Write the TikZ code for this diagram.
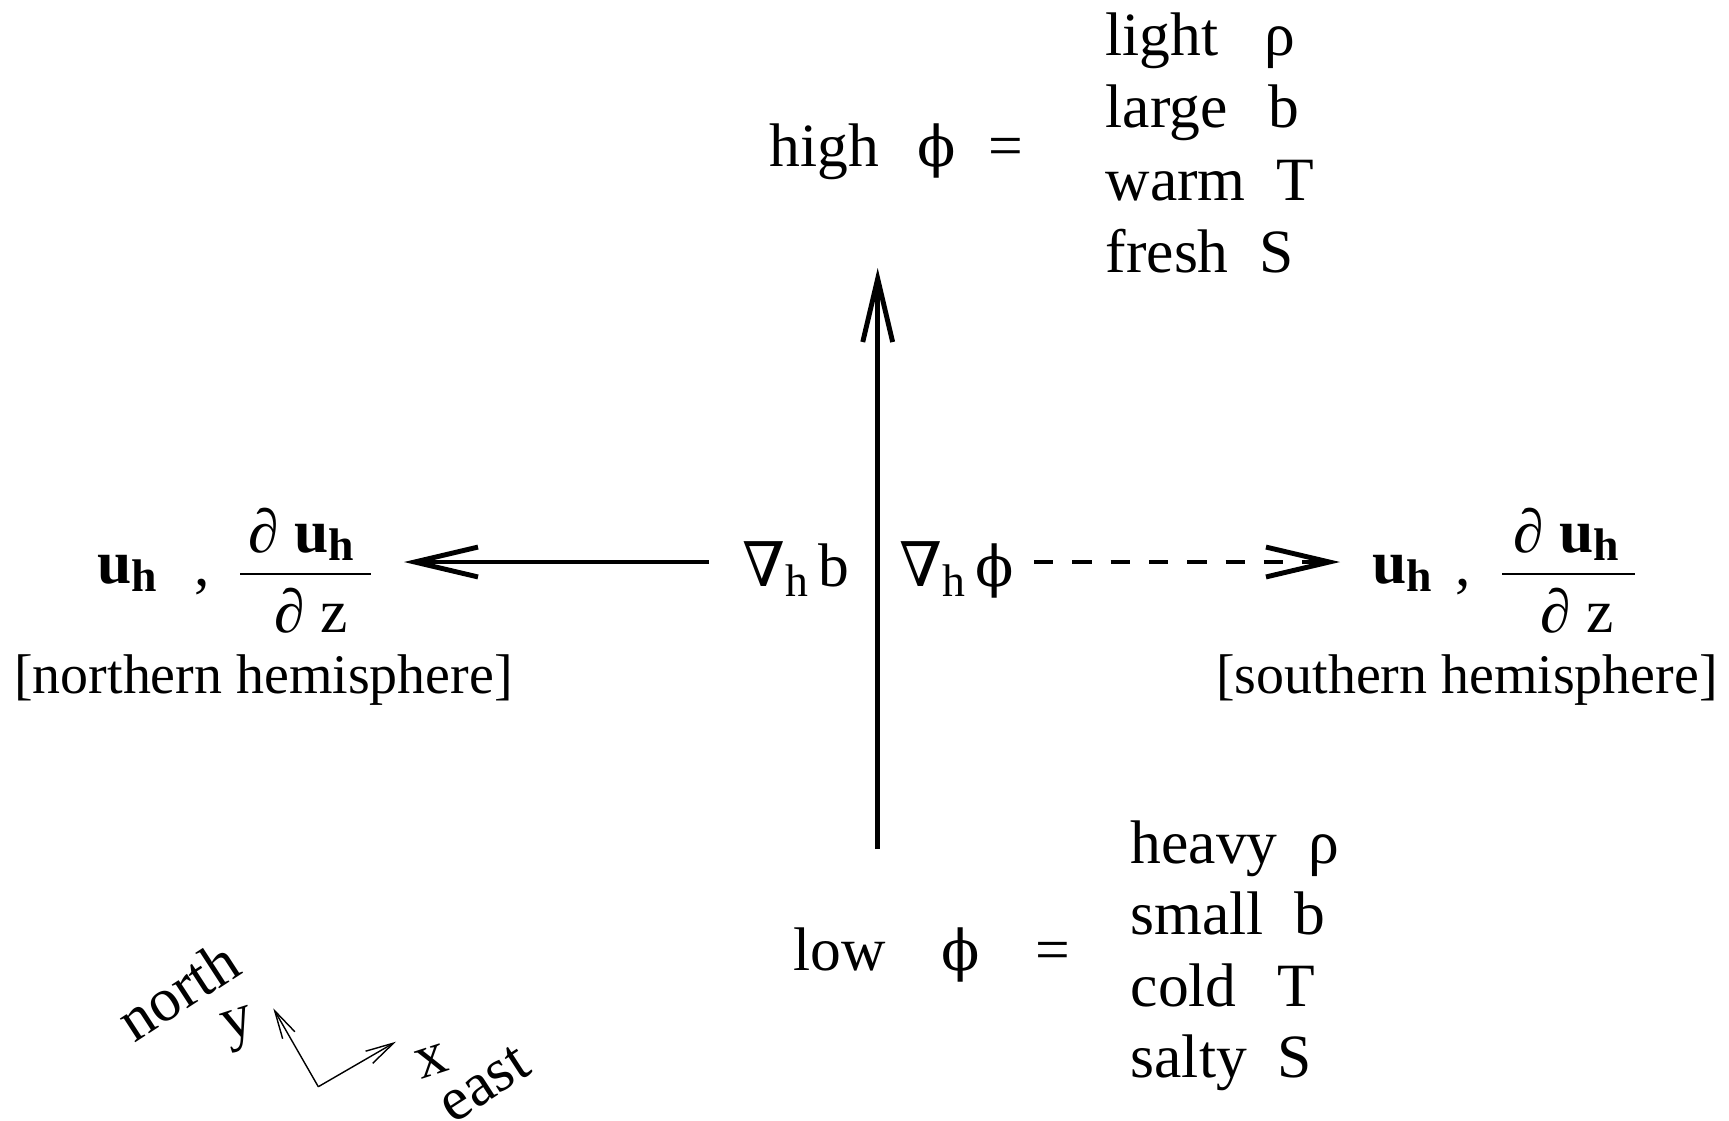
\documentclass[tikz,border=0pt]{standalone}
\usepackage{fontspec}
\setmainfont{Liberation Serif}
\newfontfamily\symfont{DejaVu Serif}
\usetikzlibrary{arrows.meta,positioning}
\newcommand{\bigtxt}{\fontsize{17.5}{20.5}\selectfont}
\newcommand{\smalltxt}{\fontsize{15.9}{18}\selectfont}
\newcommand{\subh}[2][3pt]{\raisebox{-#1}{\fontsize{13}{13}\selectfont #2}}
\newcommand{\grad}{{\symfont ∇}}
\newcommand{\phisym}{{\symfont\fontsize{16}{16}\selectfont ϕ}}
\newcommand{\uh}{\textbf{u\subh[2.5pt]{h}}}
\tikzset{
  lbl/.style={inner sep=0pt, font=\bigtxt, anchor=base west},
  midlbl/.style={inner sep=0pt, font=\bigtxt, anchor=base},
  note/.style={inner sep=0pt, font=\smalltxt, anchor=base},
  axlbl/.style={inner sep=0pt, font=\bigtxt, rotate=33},
  flow/.style={-{Straight Barb[length=18pt,width=8.5pt]}, line width=1.4pt},
  axis/.style={-{Straight Barb[length=8pt,width=4pt]}, line width=0.4pt}
}
\begin{document}
\begin{tikzpicture}[x=0.01cm, y=-0.01cm]
  \useasboundingbox (0,0) rectangle (1729,1120);

  % high potential
  \node[lbl] (high) at (769,166) {high};
  \node[lbl] (highphi) at (917,166) {\phisym};
  \node[lbl] (higheq) at (988,166) {=};
  \node[lbl] (light) at (1105,55) {light~~~ρ};
  \node[lbl] (large) at (1105,127.5) {large~~\,b};
  \node[lbl] (warm) at (1105,200) {warm~~T};
  \node[lbl] (fresh) at (1105,272.5) {fresh~~S};

  % low potential
  \node[lbl] (low) at (793,970) {low};
  \node[lbl] (lowphi) at (941,970) {\phisym};
  \node[lbl] (loweq) at (1035,970) {=};
  \node[lbl] (heavy) at (1130,863) {heavy~~ρ};
  \node[lbl] (small) at (1130,934.5) {small~~b};
  \node[lbl] (cold) at (1130,1006) {cold~~\,T};
  \node[lbl] (salty) at (1130,1077.5) {salty~~S};

  % gradients
  \node[lbl] (gradb) at (742,586) {\grad\subh{h}\,b};
  \node[lbl] (gradphi) at (899,586) {\grad\subh{h}\,\phisym};

  % northern side
  \node[lbl] (uhN) at (97,583) {\uh};
  \node[lbl] (commaN) at (194,585) {,};
  \node[midlbl] (numN) at (301,552) {∂ \uh};
  \node[midlbl] (denN) at (311,632) {∂ z};
  \coordinate (barNl) at (240,574);
  \coordinate (barNr) at (371,574);
  \node[note] (north) at (263.5,693) {[northern hemisphere]};

  % southern side
  \node[lbl] (uhS) at (1372,583) {\uh};
  \node[lbl] (commaS) at (1455,585) {,};
  \node[midlbl] (numS) at (1566,552) {∂ \uh};
  \node[midlbl] (denS) at (1577,632) {∂ z};
  \coordinate (barSl) at (1502,574);
  \coordinate (barSr) at (1635,574);
  \node[note] (south) at (1467,693) {[southern hemisphere]};

  \draw[line width=0.7pt] (barNl) -- (barNr);
  \draw[line width=0.7pt] (barSl) -- (barSr);

  % arrows
  \coordinate (risebot) at (877.7,849);
  \coordinate (risetop) at (877.7,268);
  \coordinate (leftbeg) at (709,562);
  \coordinate (lefttip) at (404,562);
  \coordinate (rightbeg) at (1034,562);
  \coordinate (righttip) at (1340,562);
  \draw[flow] (risebot) -- (risetop);
  \draw[flow] (leftbeg) -- (lefttip);
  \draw[flow, dash pattern=on 5.5pt off 5.4pt] (rightbeg) -- (righttip);

  % compass
  \coordinate (orig) at (318.3,1086.7);
  \coordinate (ytip) at (273.3,1008.3);
  \coordinate (xtip) at (396,1041.7);
  \draw[axis] (orig) -- (ytip);
  \draw[axis] (orig) -- (xtip);
  \node[axlbl, rotate=-15] (ylbl) at (240,1030) {y};
  \node[axlbl] (nlbl) at (178,990) {north};
  \node[axlbl, rotate=-15] (xlbl) at (431.7,1061.7) {x};
  \node[axlbl] (elbl) at (484,1084) {east};
\end{tikzpicture}
\end{document}
